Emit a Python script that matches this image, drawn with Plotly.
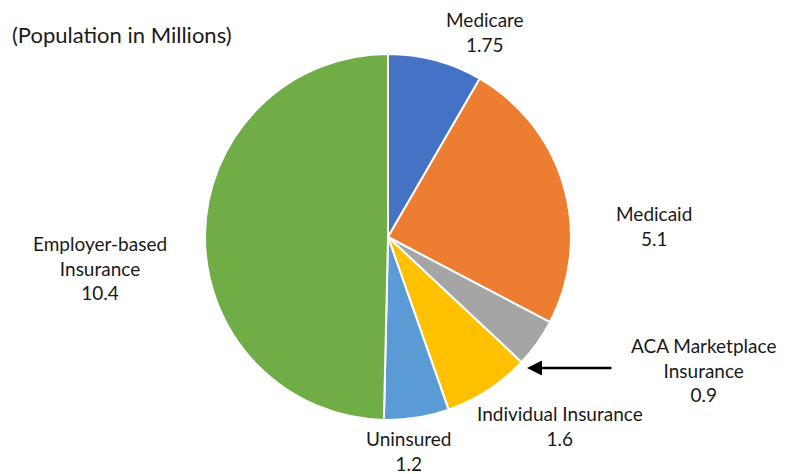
import plotly.graph_objects as go

# Coverage categories and population (millions), clockwise from 12 o'clock
categories = ["Medicare", "Medicaid", "ACA Marketplace Insurance",
              "Individual Insurance", "Uninsured", "Employer-based Insurance"]
values = [1.75, 5.1, 0.9, 1.6, 1.2, 10.4]
colors = ["#4472C4", "#ED7D31", "#A5A5A5", "#FFC000", "#5B9BD5", "#70AD47"]

# Label text lines (name lines) for each slice
label_lines = [["Medicare"], ["Medicaid"], ["ACA Marketplace", "Insurance"],
               ["Individual Insurance"], ["Uninsured"], ["Employer-based", "Insurance"]]

W, H = 790, 474
FONT = "Lato, Carlito, Calibri, sans-serif"

# label anchor points (pixels, center of text block)
label_pos = [(485, 32), (654, 226), (703, 370), (560, 426), (408, 451), (100, 268)]


def px(x, y):
    return x / W, 1 - y / H


fig = go.Figure()
cx, cy, r = 388, 237, 183
fig.add_trace(go.Pie(
    labels=categories,
    values=values,
    sort=False,
    direction="clockwise",
    rotation=0,
    marker=dict(colors=colors, line=dict(color="white", width=2)),
    textinfo="none",
    hoverinfo="label+value",
    showlegend=False,
    domain=dict(x=[(cx - r) / W, (cx + r) / W], y=[1 - (cy + r) / H, 1 - (cy - r) / H]),
))

annotations = []
for lines, v, (x, y) in zip(label_lines, values, label_pos):
    xx, yy = px(x, y)
    annotations.append(dict(
        x=xx, y=yy, xref="paper", yref="paper", showarrow=False,
        text="<br>".join(lines + [f"{v:g}"]), align="center",
        xanchor="center", yanchor="middle",
        font=dict(family=FONT, size=19, color="#1a1a1a"),
    ))

# Pointer to the small ACA slice
ax1, ay1 = px(527, 368)
annotations.append(dict(
    x=ax1, y=ay1, ax=86, ay=0, xref="paper", yref="paper",
    axref="pixel", ayref="pixel", showarrow=True, text="",
    arrowhead=2, arrowsize=1.2, arrowwidth=2.5, arrowcolor="black",
))

tx, ty = px(10, 35)
annotations.append(dict(
    x=tx, y=ty, xref="paper", yref="paper", showarrow=False,
    text="(Population in Millions)", xanchor="left", yanchor="middle",
    font=dict(family=FONT, size=22, color="#1a1a1a"),
))

fig.update_layout(
    width=W, height=H,
    margin=dict(l=0, r=0, t=0, b=0),
    paper_bgcolor="white", plot_bgcolor="white",
    annotations=annotations,
)

fig.write_html("out.html")
